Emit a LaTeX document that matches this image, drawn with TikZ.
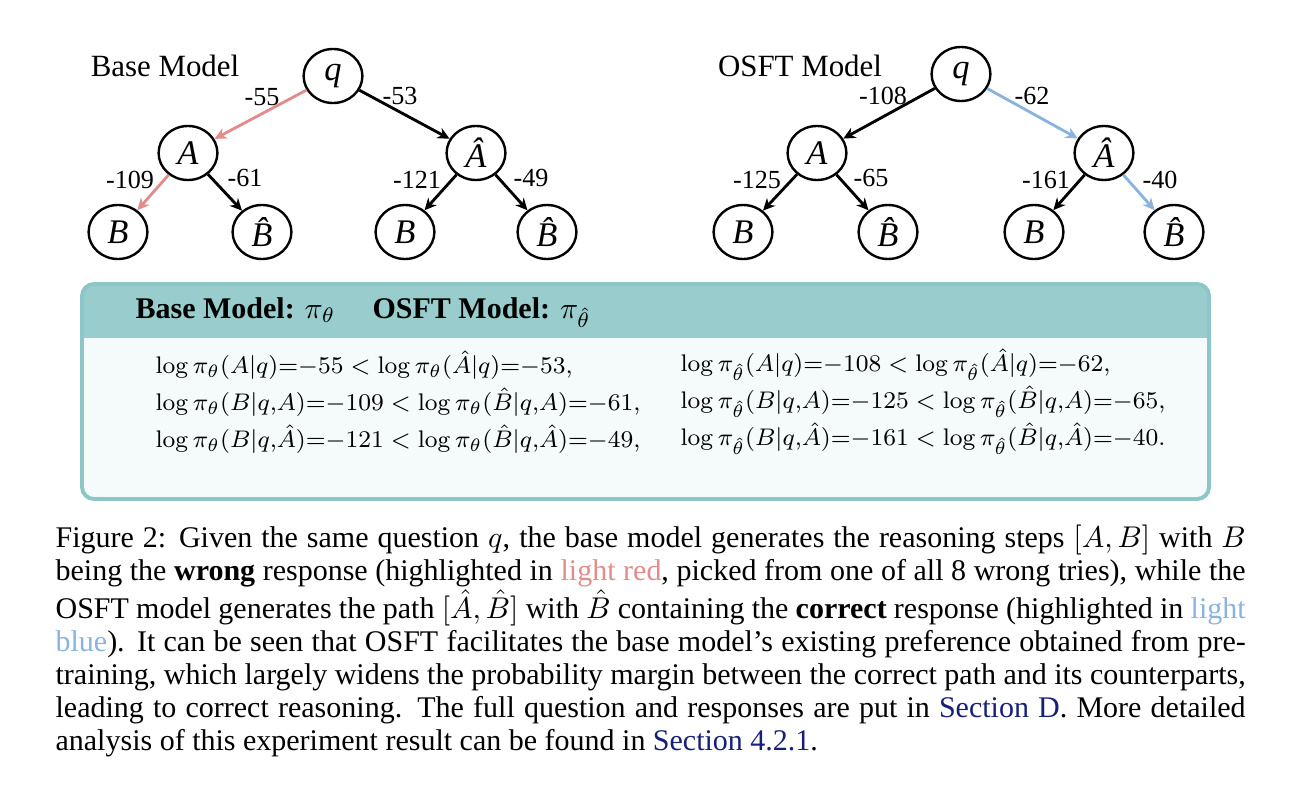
\documentclass[tikz,border=0pt]{standalone}
\usepackage[no-math]{fontspec}
\setmainfont{Liberation Serif}
\usetikzlibrary{arrows.meta,shapes.geometric}
\definecolor{lred}{RGB}{226,140,140}
\definecolor{lblue}{RGB}{138,180,222}
\definecolor{tealhead}{RGB}{153,205,205}
\definecolor{tealedge}{RGB}{140,198,198}
\definecolor{boxbody}{RGB}{245,250,251}
\definecolor{linkblue}{RGB}{22,32,120}
\begin{document}
\begin{tikzpicture}[x=0.33333pt,y=-0.33333pt,
  tn/.style={ellipse,draw,line width=0.8pt,minimum width=19.6pt,minimum height=18pt,inner sep=0pt,
    font=\fontsize{11.5}{12}\selectfont\itshape},
  edge/.style={line width=0.95pt,-{Stealth[length=4pt,width=3.8pt]}},
  redge/.style={edge,lred},
  bedge/.style={edge,lblue},
  lab/.style={inner sep=0pt,font=\fontsize{8.7}{10}\selectfont},
  ttl/.style={inner sep=0pt,font=\fontsize{10.3}{12}\selectfont},
  eq/.style={anchor=west,inner sep=0pt,font=\fontsize{7.9}{10}\selectfont},
  hdr/.style={anchor=base west,inner sep=0pt,font=\fontsize{10}{12}\selectfont\bfseries}
]
\useasboundingbox (0,0) rectangle (1301,792);
% ---------- left tree ----------
\node[ttl] (t1) at (165,66) {Base Model};
\node[tn] (q1) at (333,76) {q};
\node[tn] (a1) at (188,153) {A};
\node[tn] (ah1) at (476,153) {\^A};
\node[tn] (b1) at (118,232) {B};
\node[tn] (bh1) at (262,232) {\^B};
\node[tn] (b2) at (405,232) {B};
\node[tn] (bh2) at (547,232) {\^B};
\draw[redge] (q1) -- (a1);
\draw[edge] (q1) -- (ah1);
\draw[redge] (a1) -- (b1);
\draw[edge] (a1) -- (bh1);
\draw[edge] (ah1) -- (b2);
\draw[edge] (ah1) -- (bh2);
\node[lab] (l1) at (262,97) {-55};
\node[lab] (l2) at (400,96) {-53};
\node[lab] (l3) at (130,180) {-109};
\node[lab] (l4) at (245,178) {-61};
\node[lab] (l5) at (417,180) {-121};
\node[lab] (l6) at (531,178) {-49};
% ---------- right tree ----------
\node[ttl] (t2) at (800,66) {OSFT Model};
\node[tn] (q2) at (961,74) {q};
\node[tn] (a2) at (817,153) {A};
\node[tn] (ah2) at (1104,153) {\^A};
\node[tn] (b3) at (743,232) {B};
\node[tn] (bh3) at (888,232) {\^B};
\node[tn] (b4) at (1034,232) {B};
\node[tn] (bh4) at (1174,232) {\^B};
\draw[edge] (q2) -- (a2);
\draw[bedge] (q2) -- (ah2);
\draw[edge] (a2) -- (b3);
\draw[edge] (a2) -- (bh3);
\draw[edge] (ah2) -- (b4);
\draw[bedge] (ah2) -- (bh4);
\node[lab] (l7) at (883,96) {-108};
\node[lab] (l8) at (1032,96) {-62};
\node[lab] (l9) at (757,180) {-125};
\node[lab] (l10) at (871,178) {-65};
\node[lab] (l11) at (1046,180) {-161};
\node[lab] (l12) at (1160,180) {-40};
% ---------- box ----------
\begin{scope}
\clip[rounded corners=4pt] (82,284) rectangle (1209,499);
\fill[boxbody] (82,284) rectangle (1209,499);
\fill[tealhead] (82,284) rectangle (1209,338);
\end{scope}
\draw[tealedge,line width=1.3pt,rounded corners=4pt] (82,284) rectangle (1209,499);
\node[hdr] (h1) at (135,318) {Base Model: $\pi_\theta$};
\node[hdr] (h2) at (372,318) {OSFT Model: $\pi_{\hat\theta}$};
\node[eq] (e1) at (155,365) {$\log\pi_\theta(A|q){=}{-55} < \log\pi_\theta(\hat A|q){=}{-53},$};
\node[eq] (e2) at (155,402) {$\log\pi_\theta(B|q{,}A){=}{-109} < \log\pi_\theta(\hat B|q{,}A){=}{-61},$};
\node[eq] (e3) at (155,439) {$\log\pi_\theta(B|q{,}\hat A){=}{-121} < \log\pi_\theta(\hat B|q{,}\hat A){=}{-49},$};
\node[eq] (e4) at (680,365) {$\log\pi_{\hat\theta}(A|q){=}{-108} < \log\pi_{\hat\theta}(\hat A|q){=}{-62},$};
\node[eq] (e5) at (680,402) {$\log\pi_{\hat\theta}(B|q{,}A){=}{-125} < \log\pi_{\hat\theta}(\hat B|q{,}A){=}{-65},$};
\node[eq] (e6) at (680,439) {$\log\pi_{\hat\theta}(B|q{,}\hat A){=}{-161} < \log\pi_{\hat\theta}(\hat B|q{,}\hat A){=}{-40}.$};
% ---------- caption ----------
\node[anchor=north west,inner sep=0pt,text width=396.7pt,align=justify,
  font=\fontsize{10}{11}\selectfont] (cap) at (55,524) {%
Figure 2: Given the same question $q$, the base model generates the reasoning steps $[A, B]$ with $B$\linebreak
being the \textbf{wrong} response (highlighted in \textcolor{lred}{light red}, picked from one of all 8 wrong tries), while the\linebreak
OSFT model generates the path $[\hat{A}, \hat{B}]$ with $\hat{B}$ containing the \textbf{correct} response (highlighted in \textcolor{lblue}{light}\linebreak
\textcolor{lblue}{blue}). It can be seen that OSFT facilitates the base model's existing preference obtained from pre-\linebreak
training, which largely widens the probability margin between the correct path and its counterparts,\linebreak
leading to correct reasoning. The full question and responses are put in \textcolor{linkblue}{Section D}. More detailed\linebreak
analysis of this experiment result can be found in \textcolor{linkblue}{Section 4.2.1}.};
\end{tikzpicture}
\end{document}
